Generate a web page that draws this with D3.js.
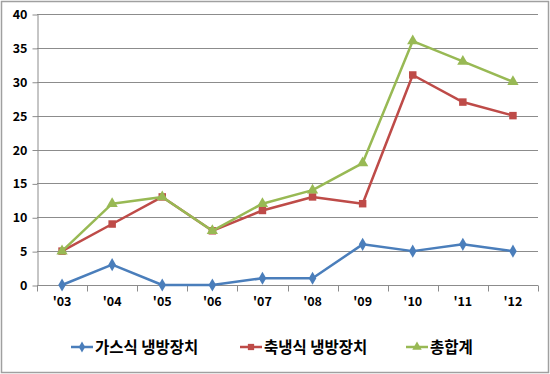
<!DOCTYPE html>
<html>
<head>
<meta charset="utf-8">
<script src="https://cdn.jsdelivr.net/npm/d3@7"></script>
<style>
  body { margin: 0; background: #fff; }
  text { font-family: "Noto Sans CJK KR", "Noto Sans", sans-serif; }
</style>
</head>
<body>
<svg id="chart" width="550" height="374"></svg>
<script>
// chart data
const years = ["'03", "'04", "'05", "'06", "'07", "'08", "'09", "'10", "'11", "'12"];
const gasValues = [0, 3, 0, 0, 1, 1, 6, 5, 6, 5];
const storageValues = [5, 9, 13, 8, 11, 13, 12, 31, 27, 25];
const totalValues = [5, 12, 13, 8, 12, 14, 18, 36, 33, 30];
const seriesNames = ["가스식 냉방장치", "축냉식 냉방장치", "총합계"];
const yTicks = [0, 5, 10, 15, 20, 25, 30, 35, 40];

const series = [
    { name: seriesNames[0], values: gasValues, color: "#4a7ebb", shape: d3.symbolDiamond, size: 50 },
    { name: seriesNames[1], values: storageValues, color: "#be4b48", shape: d3.symbolSquare, size: 56 },
    { name: seriesNames[2], values: totalValues, color: "#98b954", shape: d3.symbolTriangle, size: 55 }
];

const margin = { top: 14, right: 12, bottom: 89, left: 37 };
const width = 550, height = 374;

const svg = d3.select("#chart");

// outer frame
svg.append("rect").attr("x", 1.5).attr("y", 1.5)
    .attr("width", width - 3).attr("height", height - 3)
    .attr("fill", "none").attr("stroke", "#a0a0a0").attr("stroke-width", 1.5);

const x = d3.scaleBand().domain(years).range([margin.left, width - margin.right]);
const y = d3.scaleLinear().domain([0, 40]).range([height - margin.bottom, margin.top]);

// grid lines
svg.append("g").selectAll("line").data(yTicks.filter(d => d > 0)).join("line")
    .attr("x1", margin.left).attr("x2", width - margin.right)
    .attr("y1", d => Math.round(y(d)) + 0.5).attr("y2", d => Math.round(y(d)) + 0.5)
    .attr("stroke", "#8c8c8c");

// y axis
const yAxis = g => g
    .attr("transform", `translate(${margin.left + 0.5},0.5)`)
    .call(d3.axisLeft(y).tickValues(yTicks).tickSize(5).tickPadding(5).tickSizeOuter(0))
    .call(g => g.selectAll("line, path").attr("stroke", "#8c8c8c"))
    .call(g => g.selectAll("text").attr("font-size", 12.5).attr("font-weight", "bold").attr("fill", "#000")
        .attr("font-family", "'Noto Sans', sans-serif"));
svg.append("g").call(yAxis);

// x axis with ticks between categories
const xAxisY = Math.round(y(0)) + 0.5;
const xg = svg.append("g");
xg.append("line").attr("x1", margin.left).attr("x2", width - margin.right)
    .attr("y1", xAxisY).attr("y2", xAxisY).attr("stroke", "#8c8c8c");
const boundaries = years.map(d => x(d)).concat([x(years[years.length - 1]) + x.bandwidth()]);
xg.selectAll(".tk").data(boundaries).join("line")
    .attr("x1", d => Math.round(d) + 0.5).attr("x2", d => Math.round(d) + 0.5)
    .attr("y1", xAxisY).attr("y2", xAxisY + 6).attr("stroke", "#8c8c8c");
xg.selectAll("text").data(years).join("text")
    .attr("x", d => x(d) + x.bandwidth() / 2).attr("y", xAxisY + 20)
    .attr("text-anchor", "middle").attr("font-size", 12.5).attr("font-weight", "bold")
    .attr("font-family", "'Noto Sans', sans-serif")
    .text(d => d);

// lines and markers
const line = d3.line().x((d, i) => x(years[i]) + x.bandwidth() / 2).y(d => y(d));
series.forEach(s => {
    svg.append("path").datum(s.values).attr("d", line)
        .attr("fill", "none").attr("stroke", s.color).attr("stroke-width", 2.5)
        .attr("stroke-linejoin", "round");
    svg.append("g").selectAll("path").data(s.values).join("path")
        .attr("transform", (d, i) => `translate(${x(years[i]) + x.bandwidth() / 2},${y(d)})`)
        .attr("d", d3.symbol().type(s.shape).size(s.size))
        .attr("fill", s.color);
});

// legend
const legendX = [71, 240, 406];
const legendY = 347;
const legend = svg.append("g").selectAll("g").data(series).join("g")
    .attr("transform", (d, i) => `translate(${legendX[i]},${legendY})`);
legend.append("line").attr("x1", 0).attr("x2", 22).attr("stroke", d => d.color).attr("stroke-width", 2.5);
legend.append("path").attr("transform", "translate(11,0)")
    .attr("d", d => d3.symbol().type(d.shape).size(d.size * 0.7)())
    .attr("fill", d => d.color);
legend.append("text").attr("x", 24).attr("y", 6)
    .attr("font-size", 15.5).attr("font-weight", "bold").attr("fill", "#000")
    .text(d => d.name);
</script>
</body>
</html>
